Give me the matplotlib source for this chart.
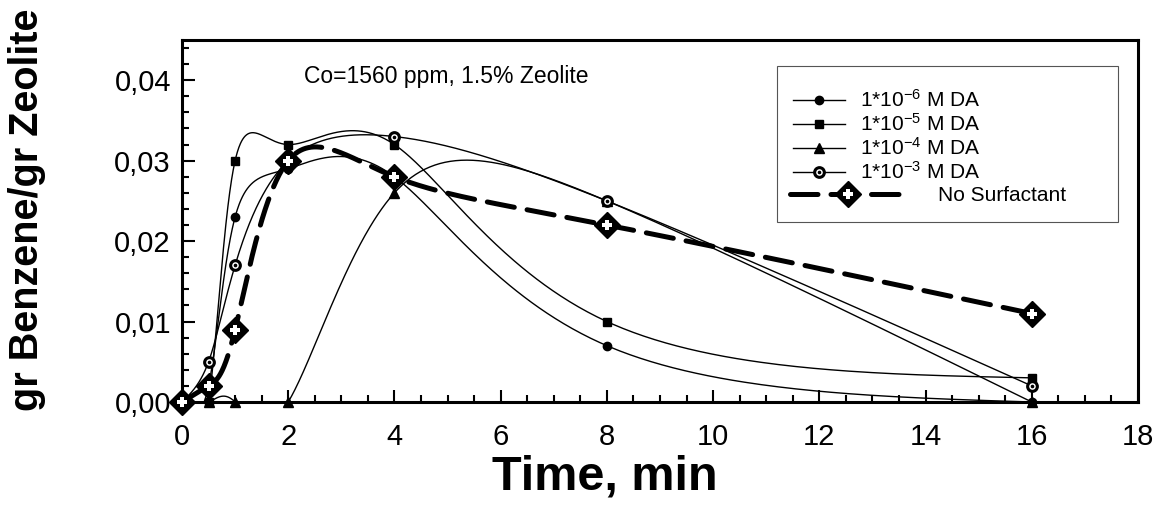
import numpy as np
import matplotlib
matplotlib.use("Agg")
import matplotlib.pyplot as plt
from matplotlib.lines import Line2D
from matplotlib.patches import Rectangle
from matplotlib.ticker import MultipleLocator, FuncFormatter

plt.rcParams["font.family"] = ["Liberation Sans", "DejaVu Sans"]
plt.rcParams["mathtext.fontset"] = "custom"
plt.rcParams["mathtext.rm"] = "Liberation Sans"
plt.rcParams["mathtext.default"] = "regular"

# values
time = [0, 0.5, 1, 2, 4, 8, 16]
da_1e6 = [0, 0.002, 0.023, 0.029, 0.028, 0.007, 0.0]
da_1e5 = [0, 0.0, 0.030, 0.032, 0.032, 0.010, 0.003]
da_1e4 = [0, 0.0, 0.0, 0.0, 0.026, 0.025, 0.0]
da_1e3 = [0, 0.005, 0.017, 0.030, 0.033, 0.025, 0.002]
no_surf = [0, 0.002, 0.009, 0.030, 0.028, 0.022, 0.011]

labels = [r"1*10$^{-6}$ M DA", r"1*10$^{-5}$ M DA",
          r"1*10$^{-4}$ M DA", r"1*10$^{-3}$ M DA"]


def natural(t, v, ts):
    n = len(t)
    h = np.diff(t)
    A = np.zeros((n, n))
    b = np.zeros(n)
    A[0, 0] = A[-1, -1] = 1
    for i in range(1, n - 1):
        A[i, i - 1] = h[i - 1]
        A[i, i] = 2 * (h[i - 1] + h[i])
        A[i, i + 1] = h[i]
        b[i] = 6 * ((v[i + 1] - v[i]) / h[i] - (v[i] - v[i - 1]) / h[i - 1])
    M = np.linalg.solve(A, b)
    k = np.clip(np.searchsorted(t, ts) - 1, 0, n - 2)
    t0, t1 = t[k], t[k + 1]
    hh = t1 - t0
    return (M[k] * (t1 - ts) ** 3 + M[k + 1] * (ts - t0) ** 3) / (6 * hh) \
        + (v[k] / hh - M[k] * hh / 6) * (t1 - ts) \
        + (v[k + 1] / hh - M[k + 1] * hh / 6) * (ts - t0)


def spline(x, y, num=600):
    # parametric spline curve through the points (drawing only)
    x = np.asarray(x, float)
    y = np.asarray(y, float)
    t = np.arange(len(x), dtype=float)
    ts = np.linspace(0, t[-1], num)
    return natural(t, x, ts), natural(t, y, ts)


fig = plt.figure(figsize=(11.73, 5.19), dpi=100)
ax = fig.add_axes([182 / 1173, 1 - 402 / 519, (1138 - 182) / 1173, (402 - 40) / 519])

styles = [
    dict(marker="o", ms=6, mfc="black", mec="black"),
    dict(marker="s", ms=6, mfc="black", mec="black"),
    dict(marker="^", ms=6.5, mfc="black", mec="black"),
    dict(marker="o", ms=7, mfc="white", mec="black", mew=2.2),
]

handles = []
for ys, st in zip([da_1e6, da_1e5, da_1e4, da_1e3], styles):
    sx, sy = spline(time, ys)
    ax.plot(sx, sy, color="black", lw=1, zorder=2)
    ax.plot(time, ys, ls="none", clip_on=False, zorder=4, **st)
    h = Line2D([], [], color="black", lw=1, **st)
    if st["mfc"] == "white":
        ax.plot(time, ys, ls="none", marker="o", ms=1.6, color="black",
                clip_on=False, zorder=5)
        h = (h, Line2D([], [], ls="none", marker="o", ms=1.6, color="black"))
    handles.append(h)

# no surfactant
sx, sy = spline(time, no_surf)
ax.plot(sx, sy, color="black", lw=3.6, dashes=(5.5, 2.6),
        dash_capstyle="round", zorder=6)
ax.plot(time, no_surf, ls="none", marker="D", ms=13, mfc="black", mec="black",
        clip_on=False, zorder=7)
ax.plot(time, no_surf, ls="none", marker="P", ms=7, mfc="white", mew=0,
        clip_on=False, zorder=8)
ns_handle = (Line2D([], [], color="black", lw=3.6, dashes=(5.5, 2.6),
                    dash_capstyle="round", marker="D", ms=13, mfc="black"),
             Line2D([], [], ls="none", marker="P", ms=7, mfc="white", mew=0))

ax.set_xlim(0, 18)
ax.set_ylim(0, 0.045)
ax.xaxis.set_major_locator(MultipleLocator(2))
ax.xaxis.set_minor_locator(MultipleLocator(0.5))
ax.yaxis.set_major_locator(MultipleLocator(0.01))
ax.yaxis.set_minor_locator(MultipleLocator(0.002))
ax.yaxis.set_major_formatter(FuncFormatter(lambda v, p: f"{v:.2f}".replace(".", ",")))
ax.tick_params(which="both", direction="in", top=False, right=False,
               width=1.5, labelsize=21)
ax.tick_params(axis="x", pad=15)
ax.tick_params(axis="y", pad=8)
ax.tick_params(which="major", length=9)
ax.tick_params(which="minor", length=5)
for sp in ax.spines.values():
    sp.set_linewidth(2.2)

ax.set_xlabel("Time, min", fontsize=35, fontweight="bold")
ax.xaxis.set_label_coords((605 - 182) / 956, -0.145)
ax.set_ylabel("gr Benzene/gr Zeolite", fontsize=28.5, fontweight="bold")
ax.yaxis.set_label_coords(-0.142, 0.53)

ax.text(2.3, 0.0405, "Co=1560 ppm, 1.5% Zeolite", fontsize=16.5, va="center")

# legend box
fig.patches.append(Rectangle((777 / 1173, 1 - 222 / 519), (1118 - 777) / 1173,
                             (222 - 66) / 519, transform=fig.transFigure,
                             fill=False, edgecolor="#555555", lw=0.8))
leg1 = fig.legend(handles, labels, loc="upper left",
                  bbox_to_anchor=(793 / 1173, 1 - 89 / 519), frameon=False,
                  fontsize=15, handlelength=2.5, handletextpad=0.7,
                  labelspacing=0.1, borderpad=0, borderaxespad=0)
leg2 = fig.legend([ns_handle], ["No Surfactant"], loc="upper left",
                  bbox_to_anchor=(790 / 1173, 1 - 186 / 519), frameon=False,
                  fontsize=15, handlelength=5.6, handletextpad=1.5,
                  borderpad=0, borderaxespad=0)

fig.savefig("out.png", dpi=100)
